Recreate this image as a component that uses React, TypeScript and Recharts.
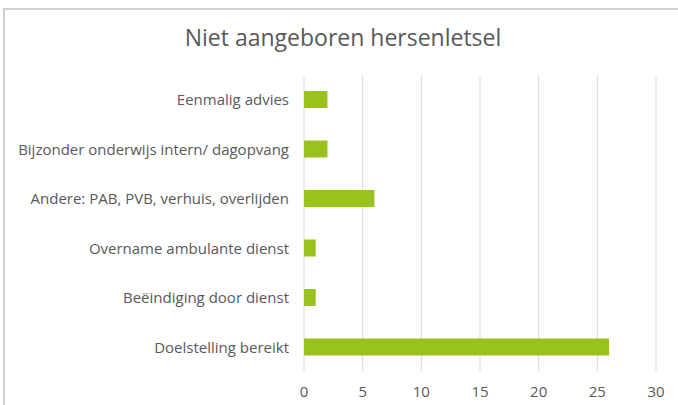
import { BarChart, Bar, XAxis, YAxis, CartesianGrid } from 'recharts'

const categories = [
  'Eenmalig advies',
  'Bijzonder onderwijs intern/ dagopvang',
  'Andere: PAB, PVB, verhuis, overlijden',
  'Overname ambulante dienst',
  'Beëindiging door dienst',
  'Doelstelling bereikt',
]
const values = [2, 2, 6, 1, 1, 26]
const xTicks = [0, 5, 10, 15, 20, 25, 30]

const data = categories.map((name, i) => ({ name, value: values[i] }))

const font = '"Open Sans", sans-serif'
const textColor = '#595959'

export default function App() {
  return (
    <div style={{ position: 'absolute', left: 0, top: 0, width: 678, height: 405, background: '#fff', overflow: 'hidden', fontFamily: font }}>
      {/* frame (only left and top edges are visible in the crop) */}
      <div style={{ position: 'absolute', left: 3, top: 8, width: 700, height: 420, borderLeft: '2px solid #d0d0d0', borderTop: '2px solid #d0d0d0' }} />
      <div style={{ position: 'absolute', left: 0, top: 21, width: 686, textAlign: 'center', fontSize: 23, color: textColor }}>
        Niet aangeboren hersenletsel
      </div>
      <div style={{ position: 'absolute', left: 0, top: 0 }}>
        <BarChart
          width={678}
          height={405}
          data={data}
          layout="vertical"
          margin={{ top: 75, right: 22, bottom: 0, left: 4 }}
          barSize={17}
        >
          <CartesianGrid horizontal={false} stroke="#d9d9d9" />
          <XAxis
            type="number"
            domain={[0, 30]}
            ticks={xTicks}
            axisLine={false}
            tickLine={false}
            height={33}
            tickMargin={8}
            tick={{ fill: textColor, fontSize: 15, fontFamily: font }}
          />
          <YAxis
            type="category"
            dataKey="name"
            width={300}
            axisLine={false}
            tickLine={false}
            tickMargin={9}
            interval={0}
            tick={{ fill: textColor, fontSize: 15, fontFamily: font }}
          />
          <Bar dataKey="value" fill="#99c21e" isAnimationActive={false} />
        </BarChart>
      </div>
    </div>
  )
}
